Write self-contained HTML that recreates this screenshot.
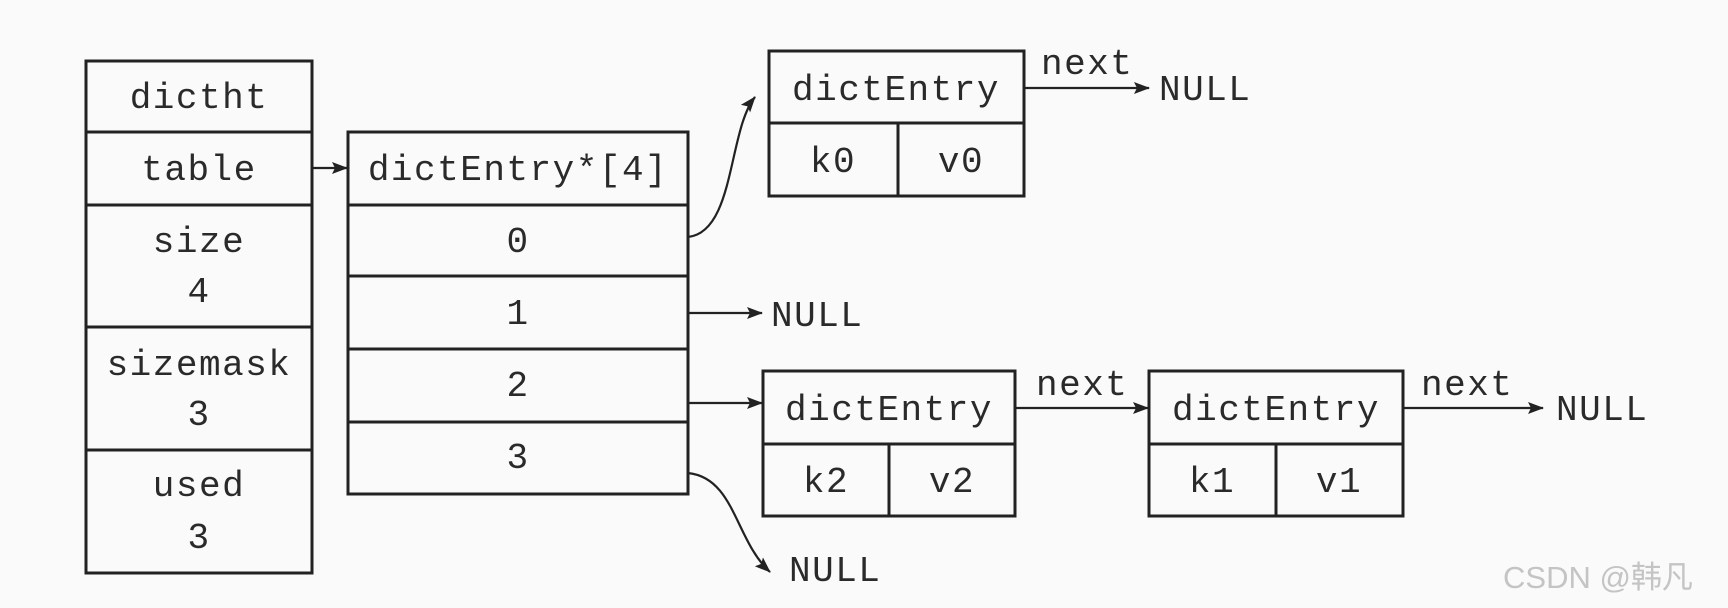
<!DOCTYPE html>
<html><head><meta charset="utf-8"><style>
html,body{margin:0;padding:0;background:#fafafa;}
svg{display:block;}
text{font-family:"Liberation Mono",monospace;font-size:36px;fill:#2a2a2a;text-anchor:middle;letter-spacing:1.5px;}
.n{text-anchor:start;}
</style></head><body>
<svg width="1728" height="608" viewBox="0 0 1728 608" xmlns="http://www.w3.org/2000/svg">
<defs><marker id="a" markerWidth="16" markerHeight="12" refX="15" refY="6" orient="auto" markerUnits="userSpaceOnUse"><path d="M0,0 L16,6 L0,12 L3,6 Z" fill="#222"/></marker></defs>
<rect width="1728" height="608" fill="#fafafa"/>
<g fill="none" stroke="#222" stroke-width="3">
<rect x="86" y="61" width="226" height="512"/>
<line x1="86" y1="132" x2="312" y2="132"/><line x1="86" y1="205" x2="312" y2="205"/><line x1="86" y1="327" x2="312" y2="327"/><line x1="86" y1="450" x2="312" y2="450"/>
<rect x="348" y="132" width="340" height="362"/>
<line x1="348" y1="205" x2="688" y2="205"/><line x1="348" y1="276" x2="688" y2="276"/><line x1="348" y1="349" x2="688" y2="349"/><line x1="348" y1="422" x2="688" y2="422"/>
<rect x="769" y="51" width="255" height="145"/><line x1="769" y1="123" x2="1024" y2="123"/><line x1="898" y1="123" x2="898" y2="196"/>
<rect x="763" y="371" width="252" height="145"/><line x1="763" y1="444" x2="1015" y2="444"/><line x1="889" y1="444" x2="889" y2="516"/>
<rect x="1149" y="371" width="254" height="145"/><line x1="1149" y1="444" x2="1403" y2="444"/><line x1="1276" y1="444" x2="1276" y2="516"/>
</g>
<g fill="none" stroke="#222" stroke-width="2.2">
<line x1="312" y1="168" x2="347" y2="168" marker-end="url(#a)"/>
<path d="M688,237 C735,232 728,130 755,97" marker-end="url(#a)"/>
<line x1="688" y1="313" x2="762" y2="313" marker-end="url(#a)"/>
<line x1="688" y1="403" x2="762" y2="403" marker-end="url(#a)"/>
<path d="M688,473 C735,478 735,540 770,572" marker-end="url(#a)"/>
<line x1="1024" y1="88" x2="1149" y2="88" marker-end="url(#a)"/>
<line x1="1015" y1="408" x2="1148" y2="408" marker-end="url(#a)"/>
<line x1="1403" y1="408" x2="1543" y2="408" marker-end="url(#a)"/>
</g>
<text x="199" y="108">dictht</text>
<text x="199" y="180">table</text>
<text x="199" y="252">size</text>
<text x="199" y="302">4</text>
<text x="199" y="375">sizemask</text>
<text x="199" y="425">3</text>
<text x="199" y="496">used</text>
<text x="199" y="548">3</text>
<text x="518" y="180">dictEntry*[4]</text>
<text x="518" y="252">0</text>
<text x="518" y="324">1</text>
<text x="518" y="396">2</text>
<text x="518" y="468">3</text>
<text x="896" y="100">dictEntry</text>
<text x="833" y="172">k0</text>
<text x="961" y="172">v0</text>
<text x="889" y="420">dictEntry</text>
<text x="826" y="492">k2</text>
<text x="952" y="492">v2</text>
<text x="1276" y="420">dictEntry</text>
<text x="1212" y="492">k1</text>
<text x="1339" y="492">v1</text>
<text class="n" x="1041" y="74">next</text>
<text class="n" x="1036" y="395">next</text>
<text class="n" x="1421" y="395">next</text>
<text class="n" x="1159" y="100">NULL</text>
<text class="n" x="771" y="326">NULL</text>
<text class="n" x="1556" y="420">NULL</text>
<text class="n" x="789" y="581">NULL</text>
<text class="n" x="1503" y="588" style="font-family:'Liberation Sans','Noto Sans CJK SC',sans-serif;font-size:31px;fill:#c4c4c4;letter-spacing:0">CSDN @韩凡</text>
</svg>
</body></html>
